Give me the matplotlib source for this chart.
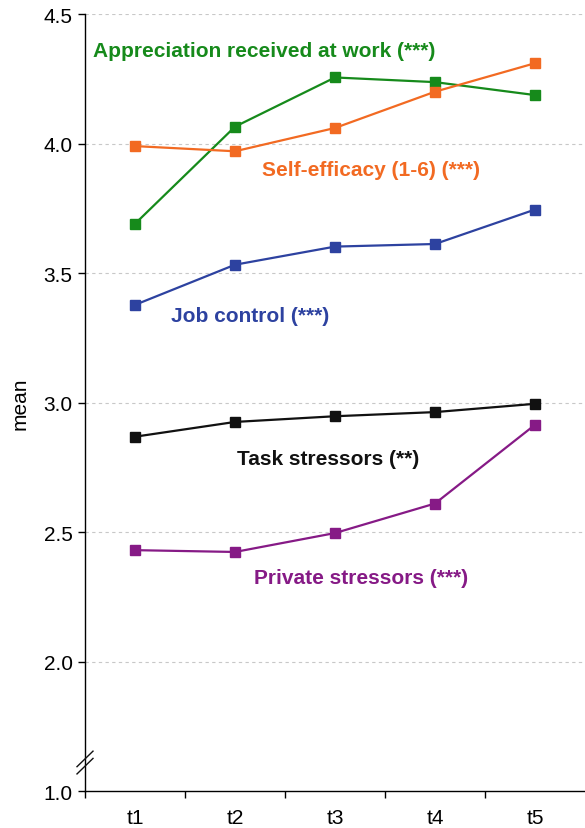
import matplotlib.pyplot as plt

# mean scores per wave
waves = ['t1', 't2', 't3', 't4', 't5']
appreciation = [3.69, 4.065, 4.255, 4.237, 4.187]
self_efficacy = [3.99, 3.97, 4.06, 4.20, 4.31]
job_control = [3.377, 3.532, 3.602, 3.612, 3.745]
task_stressors = [2.868, 2.925, 2.947, 2.963, 2.995]
private_stressors = [2.43, 2.423, 2.496, 2.61, 2.914]

# y axis is broken between 1.0 and 2.0: the 1.0 tick sits at 1.5
ytick_pos = [1.5, 2.0, 2.5, 3.0, 3.5, 4.0, 4.5]
ytick_labels = ['1.0', '2.0', '2.5', '3.0', '3.5', '4.0', '4.5']

series = [
    (appreciation, '#168a1b', 'Appreciation received at work (***)', 0.58, 4.361),
    (self_efficacy, '#f26a22', 'Self-efficacy (1-6) (***)', 2.27, 3.898),
    (job_control, '#2d42a0', 'Job control (***)', 1.36, 3.335),
    (task_stressors, '#111111', 'Task stressors (**)', 2.02, 2.783),
    (private_stressors, '#861a86', 'Private stressors (***)', 2.19, 2.324),
]

plt.rcParams['font.family'] = ['Liberation Sans', 'DejaVu Sans']

fig = plt.figure(figsize=(5.85, 8.29), dpi=100)
ax = fig.add_axes([0.1453, 0.0446, 0.8547, 0.9373])

x = list(range(1, len(waves) + 1))

for y in ytick_pos[1:]:
    ax.axhline(y, color='#c8c8c8', lw=0.8, ls=(0, (3, 3)), zorder=0)

for vals, col, label, tx, ty in series:
    ax.plot(x, vals, color=col, lw=1.6, marker='s', markersize=7, zorder=3)
    ax.text(tx, ty, label, color=col, fontsize=15, fontweight='bold',
            ha='left', va='center')

ax.set_xlim(0.5, 5.5)
ax.set_ylim(1.5, 4.5)

ax.set_xticks([0.5, 1.5, 2.5, 3.5, 4.5])
ax.set_xticklabels([])
ax.set_xticks(x, minor=True)
ax.set_xticklabels(waves, minor=True, fontsize=15)
ax.tick_params(axis='x', which='minor', length=0, pad=12)
ax.tick_params(axis='x', which='major', length=5, width=1, direction='out')

ax.set_yticks(ytick_pos)
ax.set_yticklabels(ytick_labels, fontsize=15)
ax.tick_params(axis='y', length=5, width=1, direction='out', pad=4)
ax.set_ylabel('mean', fontsize=15, labelpad=10)

for side in ['top', 'right']:
    ax.spines[side].set_visible(False)
ax.spines['left'].set_linewidth(1.0)
ax.spines['bottom'].set_linewidth(1.0)

# axis break marks
tr = ax.get_yaxis_transform()
for dy in [0.0, 0.028]:
    ax.plot([-0.016, 0.016], [1.566 + dy, 1.626 + dy], color='#111111', lw=1.0,
            transform=tr, clip_on=False, zorder=5)

fig.savefig('out.png', dpi=100)
